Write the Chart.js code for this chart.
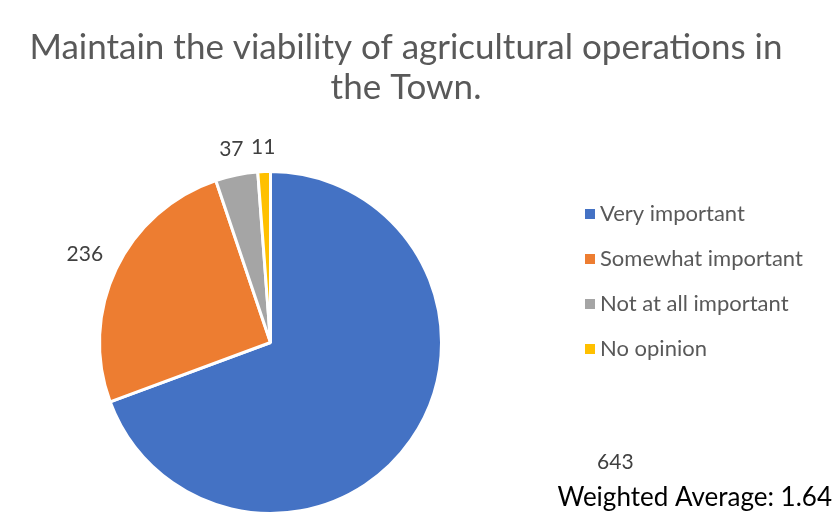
<!DOCTYPE html>
<html>
<head>
<meta charset="utf-8">
<script src="https://cdn.jsdelivr.net/npm/chart.js@4"></script>
<style>
  html, body { margin: 0; padding: 0; background: #fff; }
  #wrap { width: 835px; height: 520px; position: relative; }
</style>
</head>
<body>
<div id="wrap"><canvas id="myChart" width="835" height="520"></canvas></div>
<script>
const titleLines = ['Maintain the viability of agricultural operations in', 'the Town.'];
const categories = ['Very important', 'Somewhat important', 'Not at all important', 'No opinion'];
const counts = [643, 236, 37, 11];
const sliceColors = ['#4472C4', '#ED7D31', '#A5A5A5', '#FFC000'];
const footNote = 'Weighted Average: 1.64';

const FONT = 'Lato, "Open Sans", sans-serif';

// titre, légende, étiquettes et note dessinés à la main
const textPlugin = {
    id: 'texts',
    afterDraw(chart, args, opts) {
        const ctx = chart.ctx;
        ctx.save();

        // titre
        ctx.fillStyle = '#595959';
        ctx.font = `${opts.titleSize}px ${FONT}`;
        ctx.textAlign = 'center';
        ctx.textBaseline = 'middle';
        titleLines.forEach((t, i) => ctx.fillText(t, opts.titleX, opts.titleY + i * opts.titleLineH));

        // étiquettes autour du camembert
        const meta = chart.getDatasetMeta(0);
        ctx.font = `${opts.labelSize}px ${FONT}`;
        ctx.fillStyle = '#404040';
        meta.data.forEach((arc, i) => {
            const p = arc.getProps(['x', 'y', 'startAngle', 'endAngle', 'outerRadius'], true);
            const a = (p.startAngle + p.endAngle) / 2;
            const txt = String(chart.data.datasets[0].data[i]);
            const w = ctx.measureText(txt).width;
            const d = p.outerRadius + 14 + Math.abs(Math.cos(a)) * w / 2 + Math.abs(Math.sin(a)) * 10;
            const nudge = opts.nudge[i] || [0, 0];
            ctx.fillText(txt, p.x + Math.cos(a) * d + nudge[0], p.y + Math.sin(a) * d + nudge[1]);
        });

        // légende
        ctx.font = `${opts.legendSize}px ${FONT}`;
        ctx.textAlign = 'left';
        chart.data.labels.forEach((lab, i) => {
            const y = opts.legendY + i * opts.legendGap;
            ctx.fillStyle = chart.data.datasets[0].backgroundColor[i];
            ctx.fillRect(opts.legendX, y - 5, 10, 10);
            ctx.fillStyle = '#595959';
            ctx.fillText(lab, opts.legendX + 15, y);
        });

        // moyenne pondérée
        ctx.fillStyle = '#000';
        ctx.font = `${opts.noteSize}px ${FONT}`;
        ctx.textAlign = 'right';
        ctx.fillText(footNote, 832, 498);

        ctx.restore();
    }
};

const ctx = document.getElementById('myChart').getContext('2d');
new Chart(ctx, {
    type: 'pie',
    data: {
        labels: categories,
        datasets: [{
            data: counts,
            backgroundColor: sliceColors,
            borderColor: '#fff',
            borderWidth: 3
        }]
    },
    options: {
        responsive: false,
        animation: false,
        layout: { padding: { top: 170, bottom: 5, left: 98, right: 392 } },
        plugins: {
            legend: { display: false },
            tooltip: { enabled: false },
            texts: {
                titleSize: 35, titleX: 406, titleY: 48, titleLineH: 40,
                labelSize: 21,
                legendSize: 22, legendX: 585, legendY: 214, legendGap: 45,
                noteSize: 26,
                nudge: { 0: [176, 2] }
            }
        }
    },
    plugins: [textPlugin]
});
</script>
</body>
</html>
